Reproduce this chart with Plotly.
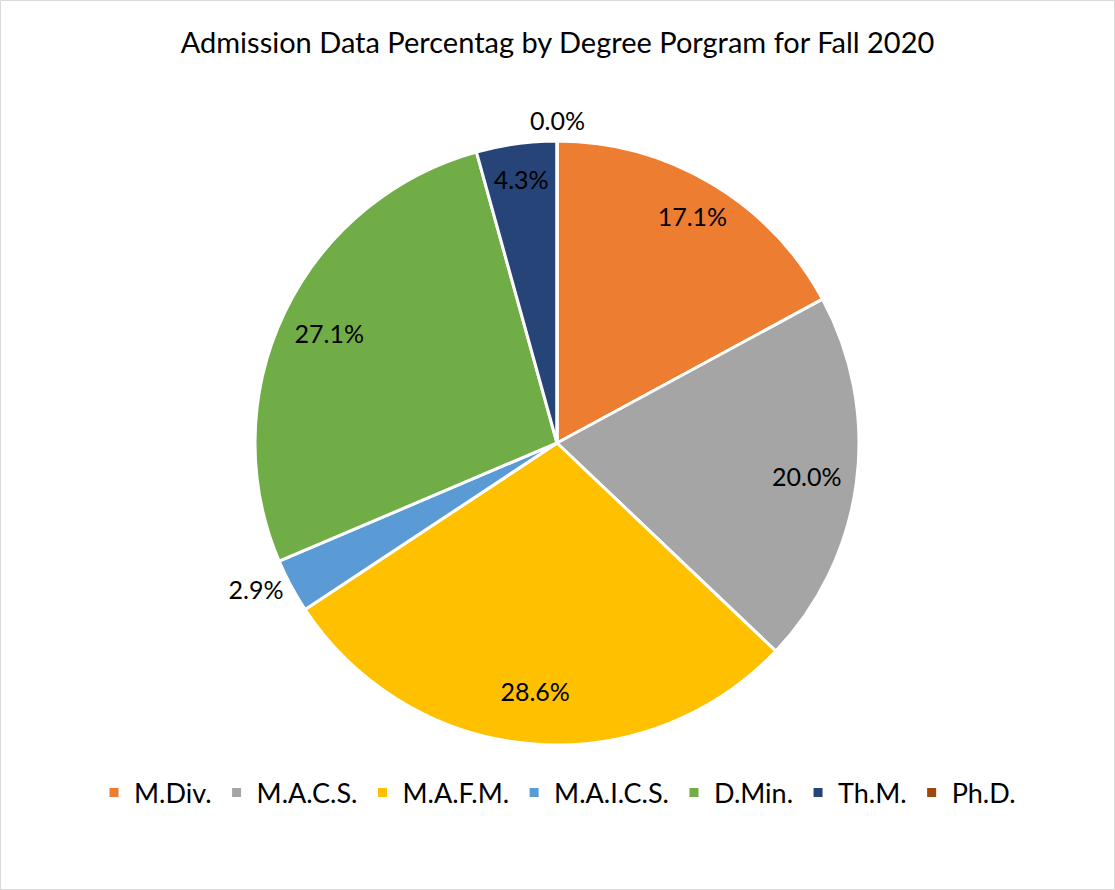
import plotly.graph_objects as go

programs = ["M.Div.", "M.A.C.S.", "M.A.F.M.", "M.A.I.C.S.", "D.Min.", "Th.M.", "Ph.D."]
percentages = [17.1, 20.0, 28.6, 2.9, 27.1, 4.3, 0.0]
colors = ["#ED7D31", "#A5A5A5", "#FFC000", "#5B9BD5", "#70AD47", "#264478", "#9E480E"]
# labels drawn by the main pie (small / outside ones)
main_text_pos = ["none", "none", "none", "outside", "none", "inside", "none"]
# labels drawn by transparent, wider text-only pies (large slices)
text_pos_a = ["inside", "inside", "none", "none", "none", "none", "none"]
text_pos_b = ["none", "none", "inside", "none", "inside", "none", "none"]

W, H = 1115, 890
cx, cy, r = 557, 443, 302
FONT = "Lato"
LABEL_SIZE = 25


def dom(radius):
    return dict(x=[(cx - radius) / W, (cx + radius) / W],
                y=[max(0, (H - cy - radius) / H), min(1, (H - cy + radius) / H)])


def pie(radius, text_pos, visible_marks):
    return go.Pie(
        labels=programs,
        values=percentages,
        sort=False,
        direction="clockwise",
        rotation=0,
        domain=dom(radius),
        marker=dict(colors=colors if visible_marks else ["rgba(0,0,0,0)"] * len(programs),
                    line=dict(color="white", width=3 if visible_marks else 0)),
        texttemplate="%{value:.1f}%",
        textposition=text_pos,
        insidetextorientation="horizontal",
        textfont=dict(family=FONT, size=LABEL_SIZE, color="black"),
        hoverinfo="label+value" if visible_marks else "skip",
        showlegend=visible_marks,
    )


fig = go.Figure()
fig.add_trace(pie(r, main_text_pos, True))
fig.add_trace(pie(400, text_pos_a, False))
fig.add_trace(pie(443, text_pos_b, False))

fig.update_layout(
    width=W, height=H,
    margin=dict(l=0, r=0, t=0, b=0),
    paper_bgcolor="white",
    font=dict(family=FONT, color="black"),
    title=dict(text="Admission Data Percentag by Degree Porgram for Fall 2020",
               x=0.5, xanchor="center", y=1 - 43 / H, yanchor="middle",
               font=dict(size=29, color="black")),
    legend=dict(orientation="h", x=0.5, xanchor="center",
                y=(H - 793) / H, yanchor="middle",
                font=dict(size=27, color="black"), itemwidth=30),
    annotations=[dict(text=f"{percentages[6]:.1f}%", xref="paper", yref="paper",
                      x=cx / W, y=(H - 120) / H, xanchor="center", yanchor="middle",
                      showarrow=False,
                      font=dict(family=FONT, size=LABEL_SIZE, color="black"))],
    shapes=[dict(type="rect", xref="paper", yref="paper",
                 x0=0.5 / W, x1=1 - 0.5 / W, y0=0.5 / H, y1=1 - 0.5 / H,
                 line=dict(color="#D9D9D9", width=1))],
)

fig.write_html("out.html", config={"displayModeBar": False},
               post_script="document.body.style.margin='0px';")
